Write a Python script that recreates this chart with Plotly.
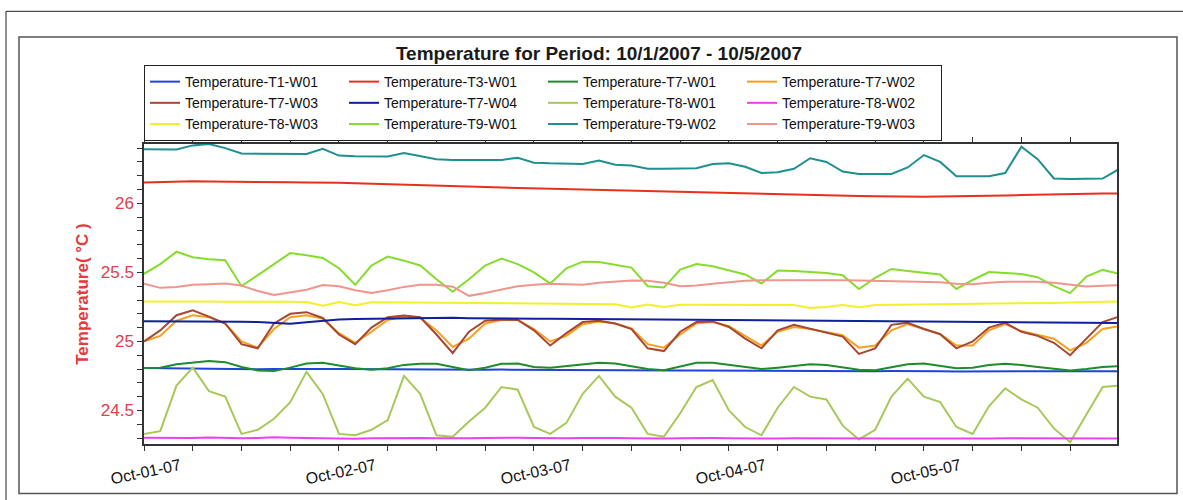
import pandas as pd
import plotly.graph_objects as go

# ---------------- data (2-hour samples) ----------------
TIMES = pd.date_range("2007-10-01 00:00", "2007-10-06 00:00", freq="2h")

NAMES = [
    "Temperature-T1-W01", "Temperature-T3-W01", "Temperature-T7-W01", "Temperature-T7-W02",
    "Temperature-T7-W03", "Temperature-T7-W04", "Temperature-T8-W01", "Temperature-T8-W02",
    "Temperature-T8-W03", "Temperature-T9-W01", "Temperature-T9-W02", "Temperature-T9-W03",
]

T1_W01 = [24.808, 24.806, 24.805, 24.806, 24.804, 24.803, 24.801, 24.798, 24.800, 24.802,
          24.803, 24.801, 24.800, 24.799, 24.797, 24.799, 24.800, 24.799, 24.797, 24.795,
          24.793, 24.795, 24.796, 24.795, 24.794, 24.792, 24.793, 24.794, 24.793, 24.792,
          24.790, 24.789, 24.788, 24.789, 24.790, 24.789, 24.788, 24.787, 24.786, 24.787,
          24.788, 24.787, 24.786, 24.785, 24.784, 24.784, 24.785, 24.786, 24.785, 24.784,
          24.783, 24.783, 24.784, 24.785, 24.784, 24.783, 24.783, 24.782, 24.783, 24.784,
          24.784]
T3_W01 = [26.152, 26.155, 26.158, 26.160, 26.158, 26.156, 26.155, 26.155, 26.154, 26.153,
          26.152, 26.152, 26.150, 26.145, 26.141, 26.138, 26.135, 26.130, 26.127, 26.125,
          26.122, 26.118, 26.115, 26.112, 26.108, 26.106, 26.103, 26.100, 26.097, 26.094,
          26.090, 26.088, 26.086, 26.084, 26.082, 26.079, 26.076, 26.073, 26.070, 26.066,
          26.062, 26.059, 26.057, 26.055, 26.053, 26.051, 26.049, 26.048, 26.048, 26.049,
          26.050, 26.052, 26.054, 26.057, 26.060, 26.063, 26.066, 26.069, 26.071, 26.072,
          26.072]
T7_W01 = [24.807, 24.810, 24.835, 24.845, 24.858, 24.850, 24.815, 24.790, 24.785, 24.810,
          24.840, 24.845, 24.825, 24.805, 24.795, 24.805, 24.830, 24.838, 24.838, 24.815,
          24.792, 24.810, 24.838, 24.840, 24.815, 24.810, 24.820, 24.835, 24.845, 24.840,
          24.820, 24.800, 24.792, 24.820, 24.845, 24.845, 24.830, 24.812, 24.800, 24.810,
          24.825, 24.835, 24.830, 24.810, 24.795, 24.792, 24.815, 24.835, 24.840, 24.825,
          24.805, 24.810, 24.830, 24.838, 24.830, 24.815, 24.800, 24.790, 24.800, 24.815,
          24.820]
T7_W02 = [25.000, 25.040, 25.150, 25.190, 25.175, 25.130, 25.000, 24.955, 25.090, 25.175,
          25.190, 25.165, 25.060, 24.990, 25.070, 25.155, 25.180, 25.170, 25.080, 24.960,
          25.020, 25.130, 25.155, 25.155, 25.090, 25.000, 25.040, 25.125, 25.145, 25.130,
          25.095, 24.980, 24.955, 25.050, 25.130, 25.140, 25.110, 25.040, 24.970, 25.070,
          25.105, 25.090, 25.065, 25.045, 24.955, 24.970, 25.080, 25.125, 25.090, 25.055,
          24.970, 24.970, 25.080, 25.125, 25.075, 25.050, 25.020, 24.935, 24.990, 25.090,
          25.110]
T7_W03 = [25.000, 25.080, 25.190, 25.225, 25.180, 25.130, 24.980, 24.950, 25.130, 25.200,
          25.212, 25.170, 25.050, 24.980, 25.100, 25.175, 25.188, 25.175, 25.050, 24.915,
          25.070, 25.150, 25.158, 25.155, 25.080, 24.970, 25.060, 25.140, 25.150, 25.130,
          25.090, 24.950, 24.930, 25.070, 25.140, 25.145, 25.105, 25.020, 24.950, 25.080,
          25.120, 25.090, 25.060, 25.035, 24.910, 24.950, 25.120, 25.135, 25.090, 25.052,
          24.950, 25.000, 25.100, 25.135, 25.070, 25.040, 24.990, 24.900, 25.020, 25.140,
          25.180]
T7_W04 = [25.146, 25.146, 25.145, 25.146, 25.144, 25.143, 25.142, 25.140, 25.132, 25.128,
          25.138, 25.148, 25.158, 25.162, 25.164, 25.166, 25.168, 25.172, 25.172, 25.171,
          25.168, 25.166, 25.166, 25.165, 25.164, 25.165, 25.164, 25.163, 25.162, 25.163,
          25.164, 25.163, 25.162, 25.160, 25.159, 25.158, 25.156, 25.155, 25.154, 25.153,
          25.153, 25.152, 25.151, 25.150, 25.149, 25.148, 25.147, 25.146, 25.145, 25.144,
          25.143, 25.142, 25.141, 25.140, 25.139, 25.138, 25.137, 25.136, 25.135, 25.135,
          25.134]
T8_W01 = [24.33, 24.35, 24.68, 24.81, 24.64, 24.60, 24.33, 24.36, 24.44, 24.56,
          24.78, 24.62, 24.33, 24.32, 24.36, 24.43, 24.75, 24.62, 24.32, 24.31,
          24.42, 24.52, 24.67, 24.65, 24.38, 24.33, 24.41, 24.62, 24.75, 24.60,
          24.52, 24.33, 24.31, 24.48, 24.67, 24.72, 24.50, 24.38, 24.32, 24.52,
          24.67, 24.60, 24.58, 24.39, 24.29, 24.36, 24.60, 24.73, 24.60, 24.56,
          24.38, 24.33, 24.53, 24.66, 24.58, 24.52, 24.37, 24.27, 24.47, 24.67,
          24.68]
T8_W02 = [24.302, 24.300, 24.303, 24.301, 24.304, 24.300, 24.298, 24.301, 24.305, 24.303,
          24.301, 24.299, 24.296, 24.295, 24.298, 24.300, 24.302, 24.301, 24.298, 24.296,
          24.299, 24.301, 24.303, 24.302, 24.300, 24.297, 24.298, 24.301, 24.302, 24.300,
          24.298, 24.296, 24.297, 24.299, 24.301, 24.300, 24.298, 24.296, 24.295, 24.297,
          24.299, 24.298, 24.296, 24.294, 24.293, 24.294, 24.296, 24.297, 24.296, 24.295,
          24.294, 24.295, 24.297, 24.298, 24.297, 24.296, 24.295, 24.294, 24.295, 24.297,
          24.296]
T8_W03 = [25.290, 25.291, 25.289, 25.290, 25.289, 25.288, 25.289, 25.288, 25.287, 25.288,
          25.286, 25.258, 25.285, 25.262, 25.284, 25.283, 25.283, 25.282, 25.281, 25.281,
          25.280, 25.279, 25.278, 25.277, 25.276, 25.275, 25.274, 25.272, 25.271, 25.270,
          25.245, 25.268, 25.250, 25.266, 25.266, 25.266, 25.265, 25.265, 25.265, 25.265,
          25.264, 25.243, 25.250, 25.264, 25.248, 25.264, 25.265, 25.265, 25.266, 25.267,
          25.268, 25.270, 25.271, 25.273, 25.275, 25.277, 25.279, 25.282, 25.285, 25.288,
          25.289]
T9_W01 = [25.490, 25.560, 25.650, 25.610, 25.595, 25.588, 25.400, 25.480, 25.560, 25.640,
          25.625, 25.605, 25.530, 25.410, 25.550, 25.615, 25.585, 25.550, 25.450, 25.360,
          25.450, 25.550, 25.600, 25.560, 25.500, 25.420, 25.530, 25.578, 25.575, 25.555,
          25.535, 25.400, 25.390, 25.520, 25.560, 25.545, 25.517, 25.485, 25.420, 25.513,
          25.510, 25.505, 25.495, 25.480, 25.380, 25.460, 25.525, 25.510, 25.495, 25.485,
          25.380, 25.445, 25.503, 25.495, 25.488, 25.465, 25.400, 25.350, 25.470, 25.518,
          25.490]
T9_W02 = [26.392, 26.390, 26.390, 26.420, 26.430, 26.400, 26.362, 26.360, 26.358, 26.358,
          26.358, 26.395, 26.346, 26.342, 26.340, 26.340, 26.365, 26.345, 26.320, 26.315,
          26.315, 26.315, 26.315, 26.330, 26.295, 26.290, 26.288, 26.286, 26.310, 26.280,
          26.275, 26.250, 26.250, 26.253, 26.255, 26.285, 26.291, 26.265, 26.220, 26.225,
          26.250, 26.327, 26.300, 26.230, 26.213, 26.213, 26.213, 26.260, 26.350, 26.300,
          26.196, 26.196, 26.196, 26.220, 26.410, 26.320, 26.180, 26.177, 26.178, 26.180,
          26.248]
T9_W03 = [25.418, 25.388, 25.395, 25.410, 25.415, 25.420, 25.405, 25.365, 25.336, 25.355,
          25.375, 25.408, 25.400, 25.370, 25.350, 25.370, 25.395, 25.410, 25.410, 25.396,
          25.330, 25.350, 25.375, 25.400, 25.410, 25.418, 25.415, 25.410, 25.425, 25.435,
          25.442, 25.440, 25.425, 25.400, 25.405, 25.418, 25.430, 25.440, 25.444, 25.445,
          25.444, 25.444, 25.443, 25.444, 25.442, 25.440, 25.437, 25.435, 25.432, 25.428,
          25.418, 25.415, 25.425, 25.432, 25.433, 25.432, 25.425, 25.410, 25.397, 25.403,
          25.408]

SERIES = [T1_W01, T3_W01, T7_W01, T7_W02, T7_W03, T7_W04,
          T8_W01, T8_W02, T8_W03, T9_W01, T9_W02, T9_W03]

COLORS = ["#1f45d6", "#e8301c", "#1e8c28", "#f5a020", "#a84832", "#10209a",
          "#a8c85a", "#ee40ee", "#f2f02a", "#86dc2c", "#1f8f8f", "#f0958c"]

Y_TICKS = [24.5, 25.0, 25.5, 26.0]
X_RANGE = ["2007-10-01 00:00", "2007-10-05 23:46"]
Y_RANGE = [24.257, 26.43]

# ---------------- figure ----------------
W, H = 1183, 500
ML, MR, MT, MB = 144, 66, 144, 53
PW, PH = W - ML - MR, H - MT - MB


def px2x(px):
    return (px - ML) / PW


def py2y(py):
    return (H - MB - py) / PH


fig = go.Figure()
for name, vals, col in zip(NAMES, SERIES, COLORS):
    assert len(vals) == len(TIMES), name
    fig.add_trace(go.Scatter(x=TIMES, y=vals, mode="lines", name=name,
                             line=dict(color=col, width=2)))

FONT = "Liberation Sans, Arial, sans-serif"

fig.update_layout(
    width=W, height=H,
    margin=dict(l=ML, r=MR, t=MT, b=MB, pad=0),
    paper_bgcolor="white", plot_bgcolor="white",
    font=dict(family=FONT, color="#111"),
    title=dict(text="Temperature for Period: 10/1/2007 - 10/5/2007",
               x=599 / W, xanchor="center", y=1 - 53 / H, yanchor="middle",
               font=dict(family=FONT, size=19, color="#1a1a1a", weight="bold")),
    legend=dict(orientation="h", x=0, xanchor="left", y=py2y(141), yanchor="bottom",
                bordercolor="#222", borderwidth=1, bgcolor="white",
                entrywidth=154, entrywidthmode="pixels",
                font=dict(family=FONT, size=14, color="#111")),
    xaxis=dict(type="date", range=X_RANGE, tickformat="%b-%d-%y",
               tick0="2007-10-01", dtick=86400000,
               ticks="outside", ticklen=5, tickcolor="#333",
               minor=dict(dtick=21600000, ticks="outside", ticklen=5,
                          tickcolor="#333", showgrid=False),
               showline=True, linecolor="#333", linewidth=1.5, mirror="ticks",
               showgrid=False, zeroline=False, tickangle=-12, ticklabelshift=36,
               tickfont=dict(family=FONT, size=16, color="#111")),
    yaxis=dict(range=Y_RANGE, tickvals=Y_TICKS, ticktext=["24.5", "25", "25.5", "26"],
               ticks="outside", ticklen=5, tickcolor="#333",
               minor=dict(dtick=0.1, tick0=0, ticks="outside", ticklen=5,
                          tickcolor="#333", showgrid=False),
               showline=True, linecolor="#333", linewidth=1.5, mirror=True,
               showgrid=False, zeroline=False,
               tickfont=dict(family=FONT, size=17, color="#e0404c"),
               title=dict(text="Temperature( °C )", standoff=8,
                          font=dict(family=FONT, size=17, color="#e33b3b",
                                    weight="bold"))),
    shapes=[
        dict(type="rect", xref="paper", yref="paper",
             x0=px2x(6), x1=px2x(1200), y0=py2y(520), y1=py2y(10),
             line=dict(color="#222", width=1), fillcolor="rgba(0,0,0,0)"),
        dict(type="rect", xref="paper", yref="paper",
             x0=px2x(19), x1=px2x(1177), y0=py2y(497), y1=py2y(36),
             line=dict(color="#555", width=1.5), fillcolor="rgba(0,0,0,0)"),
    ],
)

fig.write_html("out.html", config={"displayModeBar": False},
               post_script="document.body.style.margin='0';")
